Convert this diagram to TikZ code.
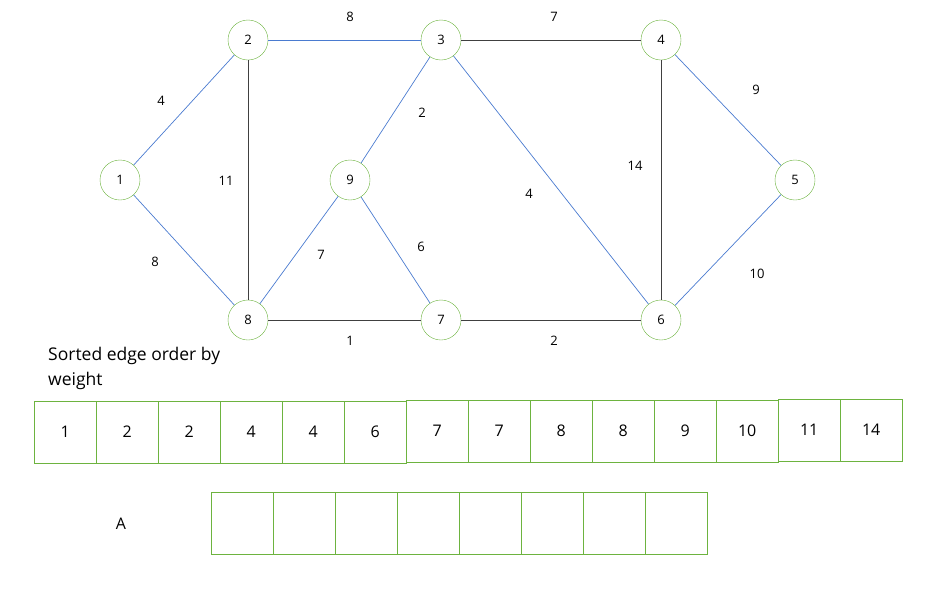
\documentclass[tikz,border=0pt]{standalone}
\usepackage{fontspec}
\setmainfont{Open Sans}
\begin{document}
\begin{tikzpicture}[x=1pt,y=-1pt,
  vert/.style={circle,draw=grn,minimum size=40pt,inner sep=0pt,font=\fontsize{13}{13}\selectfont},
  be/.style={draw=blu,line width=0.7pt},
  ge/.style={draw=gry,line width=0.7pt},
  wl/.style={font=\fontsize{13}{13}\selectfont},
  cell/.style={draw=grn,minimum width=62pt,minimum height=62pt,inner sep=0pt,font=\fontsize{16}{16}\selectfont,anchor=north west}]
\definecolor{grn}{HTML}{6DB33F}
\definecolor{blu}{HTML}{4A7BD0}
\definecolor{gry}{HTML}{404040}
\useasboundingbox (0,0) rectangle (948,592);
\node[vert] (n1) at (120,180) {1};
\node[vert] (n2) at (248,40) {2};
\node[vert] (n3) at (441,40) {3};
\node[vert] (n4) at (661,40) {4};
\node[vert] (n5) at (795,180) {5};
\node[vert] (n6) at (661,320) {6};
\node[vert] (n7) at (441,320) {7};
\node[vert] (n8) at (248,320) {8};
\node[vert] (n9) at (350,180) {9};
\draw[be] (n1)--(n2); \draw[be] (n1)--(n8); \draw[be] (n2)--(n3);
\draw[ge] (n2)--(n8); \draw[ge] (n3)--(n4); \draw[be] (n3)--(n9);
\draw[be] (n3)--(n6); \draw[ge] (n4)--(n6); \draw[be] (n4)--(n5);
\draw[be] (n5)--(n6); \draw[be] (n9)--(n8); \draw[be] (n9)--(n7);
\draw[ge] (n8)--(n7); \draw[ge] (n7)--(n6);
\node[wl] (w1) at (350,17) {8};
\node[wl] (w2) at (554,17) {7};
\node[wl] (w3) at (161,101) {4};
\node[wl] (w4) at (226,181) {11};
\node[wl] (w5) at (422,113) {2};
\node[wl] (w6) at (635,166) {14};
\node[wl] (w7) at (756,90) {9};
\node[wl] (w8) at (529,194) {4};
\node[wl] (w9) at (155,262) {8};
\node[wl] (w10) at (321,255) {7};
\node[wl] (w11) at (421,247) {6};
\node[wl] (w12) at (757,274) {10};
\node[wl] (w13) at (350,341) {1};
\node[wl] (w14) at (554,341) {2};
\node[anchor=north west,align=left,font=\fontsize{17.5}{25}\selectfont,inner sep=0pt] (hdr) at (48,347) {Sorted edge order by\\weight};
\foreach \v [count=\i from 0] in {1,2,2,4,4,6}
  \node[cell] (s\i) at (34+62*\i,401) {\v};
\foreach \v [count=\i from 6] in {7,7,8,8,9,10}
  \node[cell] (s\i) at (34+62*\i,400) {\v};
\foreach \v [count=\i from 12] in {11,14}
  \node[cell] (s\i) at (34+62*\i,399) {\v};
\node[font=\fontsize{16}{16}\selectfont] (lA) at (121,524) {A};
\foreach \i in {0,...,7}
  \node[cell] (a\i) at (211+62*\i,492) {};
\end{tikzpicture}
\end{document}
